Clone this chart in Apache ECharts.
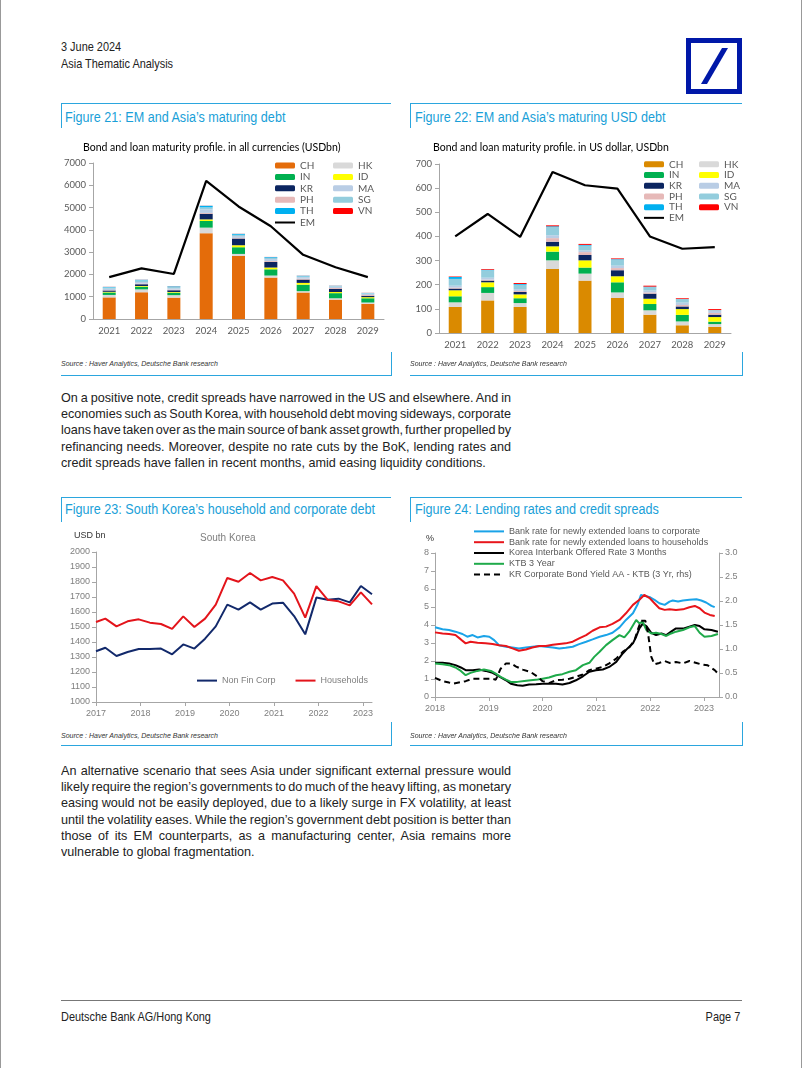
<!DOCTYPE html>
<html><head><meta charset="utf-8">
<script src="https://cdn.jsdelivr.net/npm/echarts@6/dist/echarts.min.js"></script>
<style>
html,body{margin:0;padding:0;background:#fff;}
#page{position:relative;width:802px;height:1068px;overflow:hidden;font-family:'Liberation Sans',Arial,sans-serif;color:#222;box-sizing:border-box;border-left:1px solid #999;border-right:1px solid #999;}
.abs{position:absolute;white-space:nowrap;transform:scaleX(0.84);transform-origin:0 0;}
.hdr{font-size:13px;color:#222;line-height:15px;}
.ftitle{font-size:14px;color:#1A9FD8;line-height:16px;transform:scaleX(0.9);}
.hl{position:absolute;height:1px;background:#2BA6DE;}
.vl{position:absolute;width:1px;background:#2BA6DE;}
.src{position:absolute;font-size:7px;font-style:italic;color:#333;white-space:nowrap;line-height:9px;}
.para{position:absolute;left:60px;width:464px;font-size:13px;color:#222;transform:scaleX(0.97);transform-origin:0 0;}
.para div{white-space:nowrap;text-align:justify;text-align-last:justify;height:16.2px;line-height:16.2px;word-spacing:-2.2px;}
.para div.last{text-align-last:left;word-spacing:0;}
.chart{position:absolute;}
</style></head>
<body>
<div id="page">
  <div class="abs hdr" style="left:60px;top:39px;">3 June 2024</div>
  <div class="abs hdr" style="left:60px;top:56px;">Asia Thematic Analysis</div>
  <svg style="position:absolute;left:685px;top:38px;" width="57" height="56" viewBox="0 0 57 56">
    <rect x="2.5" y="2.5" width="51" height="51" fill="#fff" stroke="#0018A8" stroke-width="5"/>
    <polygon points="15,46 21,46 42,10 36,10" fill="#0018A8"/>
  </svg>

  <div class="hl" style="left:60px;top:103px;width:330px;"></div>
  <div class="vl" style="left:60px;top:103px;height:25px;"></div>
  <div class="abs ftitle" style="left:64px;top:109px;">Figure 21: EM and Asia’s maturing debt</div>
  <div class="hl" style="left:409px;top:103px;width:332px;"></div>
  <div class="vl" style="left:409px;top:103px;height:25px;"></div>
  <div class="abs ftitle" style="left:414px;top:109px;">Figure 22: EM and Asia’s maturing USD debt</div>

  <div id="c21" class="chart" style="left:60px;top:130px;width:330px;height:220px;"></div>
  <div id="c22" class="chart" style="left:409px;top:130px;width:332px;height:225px;"></div>

  <div class="src" style="left:60px;top:359px;">Source : Haver Analytics, Deutsche Bank research</div>
  <div class="src" style="left:409px;top:359px;">Source : Haver Analytics, Deutsche Bank research</div>
  <div class="hl" style="left:60px;top:375px;width:330px;"></div>
  <div class="vl" style="left:390px;top:352px;height:24px;"></div>
  <div class="hl" style="left:409px;top:375px;width:332px;"></div>
  <div class="vl" style="left:741px;top:352px;height:24px;"></div>

  <div class="para" style="top:390px;">
    <div>On a positive note, credit spreads have narrowed in the US and elsewhere. And in</div>
    <div>economies such as South Korea, with household debt moving sideways, corporate</div>
    <div>loans have taken over as the main source of bank asset growth, further propelled by</div>
    <div>refinancing needs. Moreover, despite no rate cuts by the BoK, lending rates and</div>
    <div class="last">credit spreads have fallen in recent months, amid easing liquidity conditions.</div>
  </div>

  <div class="hl" style="left:60px;top:497px;width:330px;"></div>
  <div class="vl" style="left:60px;top:497px;height:25px;"></div>
  <div class="abs ftitle" style="left:64px;top:501px;">Figure 23: South Korea’s household and corporate debt</div>
  <div class="hl" style="left:409px;top:497px;width:332px;"></div>
  <div class="vl" style="left:409px;top:497px;height:25px;"></div>
  <div class="abs ftitle" style="left:414px;top:501px;">Figure 24: Lending rates and credit spreads</div>

  <div id="c23" class="chart" style="left:60px;top:520px;width:330px;height:210px;"></div>
  <div id="c24" class="chart" style="left:409px;top:520px;width:332px;height:210px;"></div>

  <div class="src" style="left:60px;top:731px;">Source : Haver Analytics, Deutsche Bank research</div>
  <div class="src" style="left:409px;top:731px;">Source : Haver Analytics, Deutsche Bank research</div>
  <div class="hl" style="left:60px;top:745px;width:330px;"></div>
  <div class="vl" style="left:390px;top:722px;height:24px;"></div>
  <div class="hl" style="left:409px;top:745px;width:332px;"></div>
  <div class="vl" style="left:741px;top:722px;height:24px;"></div>

  <div class="para" style="top:763px;">
    <div>An alternative scenario that sees Asia under significant external pressure would</div>
    <div>likely require the region’s governments to do much of the heavy lifting, as monetary</div>
    <div>easing would not be easily deployed, due to a likely surge in FX volatility, at least</div>
    <div>until the volatility eases. While the region’s government debt position is better than</div>
    <div>those of its EM counterparts, as a manufacturing center, Asia remains more</div>
    <div class="last">vulnerable to global fragmentation.</div>
  </div>

  <div style="position:absolute;left:60px;top:1000px;width:681px;height:1px;background:#777;"></div>
  <div class="abs hdr" style="left:60px;top:1009px;">Deutsche Bank AG/Hong Kong</div>
  <div class="abs hdr" style="right:61px;top:1009px;transform-origin:100% 0;">Page 7</div>
</div>
<script>
// ---------- Figure 21 & 22 data ----------
const years = ['2021','2022','2023','2024','2025','2026','2027','2028','2029'];
const economies = ['CH','HK','IN','ID','KR','PH','MA','SG','TH','VN'];

const allCH = [970,1200,960,3850,2830,1860,1190,870,680];
const allHK = [110,130,110,250,90,90,60,60,60];
const allIN = [110,120,110,300,300,280,290,230,190];
const allID = [30,30,30,70,90,80,80,50,50];
const allKR = [60,80,80,250,300,250,150,140,60];
const allPH = [20,30,30,40,30,40,40,40,40];
const allMA = [60,70,60,160,80,90,70,60,60];
const allSG = [60,80,70,90,60,60,40,30,20];
const allTH = [20,20,20,70,40,30,20,10,10];
const allVN = [5,5,5,5,5,5,5,5,5];
const allEM = [1880,2270,2020,6200,5050,4160,2880,2320,1880];

const usdCH = [108,135,108,265,217,145,76,32,25];
const usdHK = [19,31,16,36,29,23,18,16,12];
const usdIN = [25,24,20,36,25,42,26,27,10];
const usdID = [25,20,16,22,30,25,22,24,19];
const usdKR = [7,7,10,19,22,25,21,11,10];
const usdPH = [4,4,4,15,12,9,5,6,7];
const usdMA = [8,8,8,12,7,10,8,10,9];
const usdSG = [28,31,18,34,20,25,14,15,3];
const usdTH = [8,2,3,3,3,2,2,0,0];
const usdVN = [2,3,4,4,4,3,4,3,4];
const usdEM = [400,493,398,667,612,598,400,349,356];

const ticks21 = [0,1000,2000,3000,4000,5000,6000,7000];
const ticks22 = [0,100,200,300,400,500,600,700];

// ---------- Figure 23 data ----------
const krDates = [2017.0,2017.21,2017.46,2017.71,2017.96,2018.21,2018.46,2018.71,2018.96,2019.21,2019.45,2019.69,2019.95,2020.2,2020.46,2020.7,2020.96,2021.2,2021.45,2021.7,2021.95,2022.2,2022.45,2022.7,2022.95,2023.2];
const krNonFinCorp = [1338,1362,1307,1333,1353,1353,1356,1318,1384,1356,1422,1504,1649,1616,1664,1616,1656,1662,1573,1451,1696,1682,1689,1664,1773,1718];
const krHouseholds = [1533,1556,1504,1538,1551,1529,1520,1487,1571,1500,1556,1649,1827,1802,1860,1811,1833,1811,1722,1562,1773,1682,1671,1644,1731,1651];

// ---------- Figure 24 data ([year, value]) ----------
const rateCorp = [[2018.0,3.87],[2018.14,3.76],[2018.26,3.72],[2018.38,3.63],[2018.51,3.5],[2018.6,3.35],[2018.7,3.44],[2018.79,3.31],[2018.91,3.39],[2019.01,3.35],[2019.1,3.16],[2019.19,2.88],[2019.32,2.79],[2019.44,2.75],[2019.56,2.7],[2019.69,2.75],[2019.81,2.79],[2019.94,2.83],[2020.06,2.79],[2020.19,2.75],[2020.31,2.7],[2020.43,2.73],[2020.56,2.79],[2020.68,2.94],[2020.81,3.07],[2020.93,3.2],[2021.06,3.35],[2021.18,3.44],[2021.3,3.57],[2021.43,3.87],[2021.55,4.28],[2021.68,4.65],[2021.77,5.17],[2021.83,5.67],[2021.89,5.62],[2022.0,5.54],[2022.08,5.4],[2022.17,5.21],[2022.27,5.12],[2022.36,5.3],[2022.42,5.36],[2022.52,5.3],[2022.61,5.36],[2022.73,5.4],[2022.86,5.43],[2022.95,5.36],[2023.04,5.25],[2023.14,5.06],[2023.2,4.99]];
const rateHouse = [[2018.0,3.59],[2018.14,3.53],[2018.26,3.5],[2018.38,3.44],[2018.48,3.2],[2018.57,2.98],[2018.66,3.07],[2018.79,3.01],[2018.94,2.98],[2019.07,2.94],[2019.19,2.88],[2019.32,2.83],[2019.44,2.7],[2019.56,2.57],[2019.69,2.64],[2019.81,2.75],[2019.94,2.83],[2020.06,2.83],[2020.19,2.9],[2020.31,2.94],[2020.43,2.98],[2020.56,3.07],[2020.68,3.26],[2020.81,3.44],[2020.93,3.68],[2021.06,3.87],[2021.18,3.91],[2021.3,4.06],[2021.43,4.28],[2021.55,4.65],[2021.68,5.12],[2021.8,5.4],[2021.89,5.67],[2021.99,5.49],[2022.08,5.21],[2022.17,4.93],[2022.27,4.84],[2022.36,4.87],[2022.48,4.84],[2022.61,4.87],[2022.73,4.99],[2022.83,5.06],[2022.92,4.93],[2023.01,4.69],[2023.11,4.56],[2023.2,4.5]];
const koribor3m = [[2018.0,1.9],[2018.14,1.9],[2018.26,1.86],[2018.38,1.77],[2018.48,1.64],[2018.57,1.49],[2018.7,1.49],[2018.82,1.53],[2018.94,1.45],[2019.07,1.34],[2019.19,1.15],[2019.32,0.93],[2019.41,0.74],[2019.53,0.65],[2019.63,0.63],[2019.75,0.69],[2019.88,0.71],[2020.0,0.74],[2020.12,0.74],[2020.25,0.74],[2020.37,0.69],[2020.5,0.78],[2020.62,0.93],[2020.75,1.15],[2020.87,1.4],[2020.99,1.49],[2021.12,1.53],[2021.24,1.67],[2021.37,1.95],[2021.49,2.42],[2021.58,2.7],[2021.68,2.98],[2021.74,3.35],[2021.8,3.81],[2021.86,4.06],[2021.93,3.94],[2022.02,3.57],[2022.11,3.44],[2022.21,3.53],[2022.3,3.44],[2022.39,3.63],[2022.48,3.81],[2022.61,3.8],[2022.73,3.91],[2022.83,4.0],[2022.92,3.94],[2023.01,3.76],[2023.14,3.72],[2023.26,3.63]];
const ktb3y = [[2018.0,1.86],[2018.14,1.82],[2018.26,1.77],[2018.38,1.64],[2018.48,1.45],[2018.57,1.21],[2018.66,1.34],[2018.79,1.45],[2018.91,1.53],[2019.04,1.45],[2019.13,1.3],[2019.22,1.12],[2019.32,0.97],[2019.41,0.84],[2019.53,0.84],[2019.66,0.89],[2019.78,0.93],[2019.91,0.97],[2020.0,1.02],[2020.12,1.08],[2020.25,1.21],[2020.37,1.27],[2020.5,1.4],[2020.62,1.49],[2020.75,1.77],[2020.87,1.9],[2020.96,2.23],[2021.06,2.51],[2021.18,2.88],[2021.3,3.16],[2021.43,3.44],[2021.52,3.31],[2021.61,3.63],[2021.74,4.28],[2021.8,4.09],[2021.86,4.19],[2021.93,3.72],[2022.02,3.53],[2022.11,3.57],[2022.21,3.5],[2022.3,3.39],[2022.39,3.53],[2022.48,3.63],[2022.61,3.72],[2022.73,3.87],[2022.83,3.94],[2022.92,3.57],[2023.01,3.35],[2023.14,3.39],[2023.26,3.5]];
const corpSpread = [[2018.0,0.4],[2018.14,0.33],[2018.26,0.3],[2018.35,0.28],[2018.48,0.31],[2018.57,0.33],[2018.7,0.38],[2018.88,0.38],[2019.07,0.38],[2019.13,0.36],[2019.22,0.59],[2019.32,0.7],[2019.41,0.7],[2019.5,0.64],[2019.63,0.57],[2019.78,0.52],[2019.91,0.42],[2020.0,0.33],[2020.12,0.29],[2020.25,0.35],[2020.37,0.36],[2020.5,0.38],[2020.62,0.42],[2020.75,0.47],[2020.87,0.56],[2020.99,0.59],[2021.12,0.63],[2021.24,0.7],[2021.37,0.8],[2021.49,0.94],[2021.61,1.03],[2021.71,1.19],[2021.77,1.4],[2021.83,1.59],[2021.91,1.59],[2021.96,1.33],[2022.02,0.84],[2022.08,0.68],[2022.17,0.71],[2022.27,0.75],[2022.36,0.71],[2022.48,0.73],[2022.61,0.7],[2022.73,0.75],[2022.86,0.71],[2022.95,0.68],[2023.07,0.66],[2023.2,0.56],[2023.26,0.49]];

// ---------- styles ----------
const colors21 = {CH:'#E46C0A',HK:'#D9D9D9',IN:'#00B050',ID:'#FFFF00',KR:'#0B2560',PH:'#E6B9B8',MA:'#B9CDE5',SG:'#93CDDD',TH:'#00B0F0',VN:'#FF0000'};
const colors22 = Object.assign({}, colors21, {CH:'#DA8A00'});
const calib = 'Lato, "Open Sans", sans-serif';
const helv = '"Liberation Sans", Arial, sans-serif';
const axisGrey = '#A6A6A6';
const plain = v => String(v);
const noDot = name => ({name:name, itemStyle:{opacity:0}});

function barChart(id, title, titleLeft, series, em, max, interval, gridCfg, legCfg, cols){
  const ch = echarts.init(document.getElementById(id));
  const list = [series.CH,series.HK,series.IN,series.ID,series.KR,series.PH,series.MA,series.SG,series.TH,series.VN];
  const s = economies.map((name,i)=>({
    name, type:'bar', stack:'t', data:list[i], barWidth:13,
    itemStyle:{color:cols[name]}, emphasis:{disabled:true}
  }));
  s.push({name:'EM', type:'line', data:em, symbol:'none', lineStyle:{color:'#000', width:2.2}, itemStyle:{color:'#000'}, z:5});
  const legBase = {orient:'vertical', itemWidth:20, itemHeight:6, itemGap:legCfg.gap,
    textStyle:{fontFamily:calib, fontSize:10, color:'#595959', lineHeight:legCfg.lh}, selectedMode:false};
  ch.setOption({
    animation:false,
    title:{text:title, left:titleLeft, top:7, textStyle:{fontFamily:calib, fontSize:10.5, fontWeight:'normal', color:'#000'}},
    grid:gridCfg,
    legend:[
      Object.assign({}, legBase, {data:['CH','IN','KR','PH','TH',noDot('EM')], left:legCfg.l1, top:legCfg.top}),
      Object.assign({}, legBase, {data:['HK','ID','MA','SG','VN'], left:legCfg.l2, top:legCfg.top})
    ],
    xAxis:{type:'category', data:years, axisLine:{lineStyle:{color:axisGrey}}, axisTick:{lineStyle:{color:axisGrey}, length:4},
      axisLabel:{fontFamily:calib, fontSize:9.5, color:'#595959', margin:7}},
    yAxis:{type:'value', min:0, max:max, interval:interval, splitLine:{show:false},
      axisLine:{show:true, lineStyle:{color:axisGrey}}, axisTick:{show:true, length:4, lineStyle:{color:axisGrey}},
      axisLabel:{formatter:plain, fontFamily:calib, fontSize:9.5, color:'#595959', margin:7}},
    series:s
  });
}

barChart('c21','Bond and loan maturity profile. in all currencies (USDbn)',17,
  {CH:allCH,HK:allHK,IN:allIN,ID:allID,KR:allKR,PH:allPH,MA:allMA,SG:allSG,TH:allTH,VN:allVN}, allEM,
  ticks21[ticks21.length-1], ticks21[1]-ticks21[0], {left:32,right:7,top:33,bottom:31},
  {l1:208,l2:267,top:25,gap:0.4,lh:11}, colors21);

barChart('c22','Bond and loan maturity profile. in US dollar, USDbn',18,
  {CH:usdCH,HK:usdHK,IN:usdIN,ID:usdID,KR:usdKR,PH:usdPH,MA:usdMA,SG:usdSG,TH:usdTH,VN:usdVN}, usdEM,
  ticks22[ticks22.length-1], ticks22[1]-ticks22[0], {left:29,right:11,top:34,bottom:22},
  {l1:228,l2:284,top:24,gap:0,lh:10.7}, colors22);

// ---------- Figure 23 ----------
const c23 = echarts.init(document.getElementById('c23'));
const intFmt = v => (Math.abs(v - Math.round(v)) < 1e-6 ? String(Math.round(v)) : '');
c23.setOption({
  animation:false,
  graphic:[
    {type:'text', left:13, top:11, style:{text:'USD bn', fontFamily:helv, fontSize:9, fill:'#333'}},
    {type:'text', left:139, top:13, style:{text:'South Korea', fontFamily:helv, fontSize:10, fill:'#808080'}}
  ],
  grid:{left:35,right:19,top:32,bottom:28},
  legend:{data:[noDot('Non Fin Corp'),noDot('Households')], left:130, top:150, itemWidth:20, itemGap:19, selectedMode:false,
    textStyle:{fontFamily:helv, fontSize:9, color:'#7F7F7F'}},
  xAxis:{type:'value', min:2017, max:2023.2, interval:1, splitLine:{show:false},
    axisLine:{lineStyle:{color:axisGrey}}, axisTick:{length:4, lineStyle:{color:axisGrey}},
    axisLabel:{formatter:intFmt, fontFamily:helv, fontSize:9, color:'#7F7F7F', margin:7, showMaxLabel:false}},
  yAxis:{type:'value', min:1000, max:2000, interval:100, splitLine:{show:false},
    axisLine:{show:true, lineStyle:{color:axisGrey}}, axisTick:{show:true, length:4, lineStyle:{color:axisGrey}},
    axisLabel:{formatter:plain, fontFamily:helv, fontSize:9, color:'#7F7F7F', margin:6}},
  series:[
    {name:'Non Fin Corp', type:'line', symbol:'none', data:krDates.map((d,i)=>[d,krNonFinCorp[i]]), lineStyle:{color:'#12296B', width:2}, itemStyle:{color:'#12296B'}},
    {name:'Households', type:'line', symbol:'none', data:krDates.map((d,i)=>[d,krHouseholds[i]]), lineStyle:{color:'#E3141B', width:2}, itemStyle:{color:'#E3141B'}}
  ]
});

// ---------- Figure 24 ----------
const c24 = echarts.init(document.getElementById('c24'));
const names24 = ['Bank rate for newly extended loans to corporate','Bank rate for newly extended loans to households','Korea Interbank Offered Rate 3 Months','KTB 3 Year','KR Corporate Bond Yield AA - KTB (3 Yr, rhs)'];
c24.setOption({
  animation:false,
  graphic:[{type:'text', left:16, top:14, style:{text:'%', fontFamily:helv, fontSize:9, fill:'#333'}}],
  grid:{left:25,right:23,top:33,bottom:33},
  legend:{orient:'vertical', left:58, top:1, itemWidth:30, itemHeight:8, itemGap:0, selectedMode:false,
    textStyle:{fontFamily:helv, fontSize:9, color:'#595959', lineHeight:10.8},
    data:names24.map(noDot)},
  xAxis:{type:'value', min:2018, max:2023.28, interval:1, splitLine:{show:false},
    axisLine:{lineStyle:{color:axisGrey}}, axisTick:{length:4, lineStyle:{color:axisGrey}},
    axisLabel:{formatter:intFmt, fontFamily:helv, fontSize:9, color:'#7F7F7F', margin:7, showMaxLabel:false}},
  yAxis:[
    {type:'value', min:0, max:8, interval:1, splitLine:{show:false},
      axisLine:{show:true, lineStyle:{color:axisGrey}}, axisTick:{show:true, length:4, lineStyle:{color:axisGrey}},
      axisLabel:{fontFamily:helv, fontSize:9, color:'#7F7F7F', margin:6}},
    {type:'value', min:0, max:3, interval:0.5, position:'right', splitLine:{show:false},
      axisLine:{show:true, lineStyle:{color:axisGrey}}, axisTick:{show:true, length:4, lineStyle:{color:axisGrey}},
      axisLabel:{formatter:v=>v.toFixed(1), fontFamily:helv, fontSize:9, color:'#7F7F7F', margin:6}}
  ],
  series:[
    {name:names24[0], type:'line', symbol:'none', data:rateCorp, lineStyle:{color:'#1AA3E8', width:2}, itemStyle:{color:'#1AA3E8'}},
    {name:names24[1], type:'line', symbol:'none', data:rateHouse, lineStyle:{color:'#E8151B', width:2}, itemStyle:{color:'#E8151B'}},
    {name:names24[2], type:'line', symbol:'none', data:koribor3m, lineStyle:{color:'#000', width:2}, itemStyle:{color:'#000'}, z:3},
    {name:names24[3], type:'line', symbol:'none', data:ktb3y, lineStyle:{color:'#1FAA4A', width:2}, itemStyle:{color:'#1FAA4A'}},
    {name:names24[4], type:'line', symbol:'none', yAxisIndex:1, data:corpSpread, lineStyle:{color:'#000', width:2, type:[6,4]}, itemStyle:{color:'#000'}}
  ]
});
</script>
</body></html>
